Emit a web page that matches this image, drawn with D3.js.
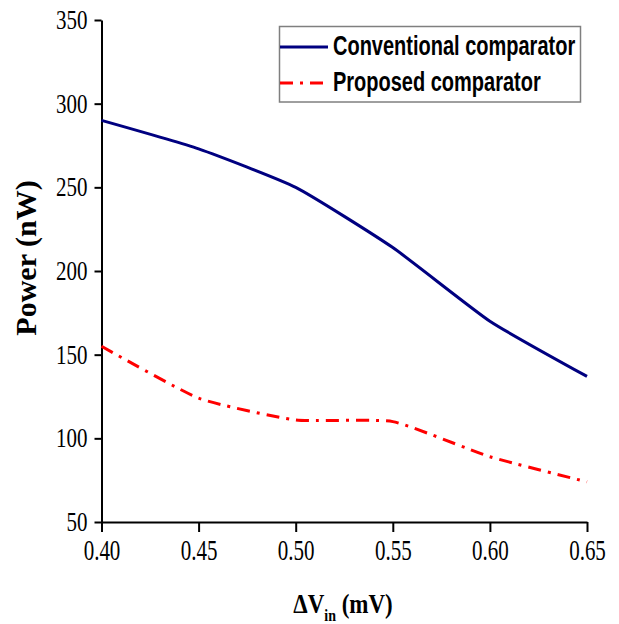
<!DOCTYPE html>
<html lang="en">
<head>
    <meta charset="UTF-8">
    <title>Power vs dVin</title>
    <style>
        body { margin: 0; background: #fff; }
        .line { fill: none; }
        .axis path, .axis line { stroke: #000; stroke-width: 2; }
        .axis text { font-family: "Liberation Serif", "Times New Roman", serif; font-size: 21px; fill: #000; }
    </style>
</head>
<body>
    <svg id="container" width="619" height="624"></svg>

<script src="https://cdn.jsdelivr.net/npm/d3@7"></script>
<script>
    // data
    let dVin = [0.40, 0.45, 0.50, 0.55, 0.60, 0.65]
    let conventional = [290, 273, 250, 214, 170, 137]
    let proposed = [155, 124, 111, 110, 89, 74]
    let xTicks = [0.40, 0.45, 0.50, 0.55, 0.60, 0.65]
    let yTicks = [50, 100, 150, 200, 250, 300, 350]
    let seriesNames = ["Conventional comparator", "Proposed comparator"]

    let svg = d3.select("#container")

    let x = d3.scaleLinear().domain([0.40, 0.65]).range([101.5, 587])
    let y = d3.scaleLinear().domain([50, 350]).range([522, 20])

    // y axis
    let yAxis = svg.append("g")
        .attr("class", "axis")
        .attr("transform", "translate(101.5,0)")
        .call(d3.axisLeft(y).tickValues(yTicks).tickSize(7).tickSizeOuter(0).tickPadding(7).tickFormat(d3.format("d")))
    yAxis.selectAll("text").attr("transform", "scale(1,1.35)").attr("dy", "0.3em")

    // x axis
    let xAxis = svg.append("g")
        .attr("class", "axis")
        .attr("transform", "translate(0,522)")
        .call(d3.axisBottom(x).tickValues(xTicks).tickSize(10).tickSizeOuter(0).tickFormat(d3.format(".2f")))
    xAxis.selectAll("text").attr("transform", "scale(1,1.42)").attr("y", 38 / 1.42).attr("dy", 0)

    // lines (light smoothing like the spreadsheet original)
    let line = d3.line()
        .x((d, i) => x(dVin[i]))
        .y(d => y(d))
        .curve(d3.curveCardinal.tension(0.5))

    svg.append("path")
        .datum(conventional)
        .attr("class", "line")
        .attr("stroke", "#000080")
        .attr("stroke-width", 3)
        .attr("d", line)

    svg.append("path")
        .datum(proposed)
        .attr("class", "line")
        .attr("stroke", "#ff0000")
        .attr("stroke-width", 3)
        .attr("stroke-dasharray", "13,7,3,7")
        .attr("d", line)

    // axis titles
    svg.append("text")
        .attr("transform", "translate(36,258) rotate(-90)")
        .attr("text-anchor", "middle")
        .style("font-family", "Liberation Serif, Times New Roman, serif")
        .style("font-weight", "bold")
        .style("font-size", "30px")
        .text("Power (nW)")

    let xt = svg.append("text")
        .attr("transform", "translate(343,613) scale(1,1.2)")
        .attr("text-anchor", "middle")
        .style("font-family", "Liberation Serif, Times New Roman, serif")
        .style("font-weight", "bold")
        .style("font-size", "23px")
    xt.append("tspan").text("\u0394V")
    xt.append("tspan").attr("dy", 7).style("font-size", "14px").text("in")
    xt.append("tspan").attr("dy", -7).text(" (mV)")

    // legend
    let legend = svg.append("g")
    legend.append("rect")
        .attr("x", 279.5).attr("y", 26.5)
        .attr("width", 301).attr("height", 75.5)
        .attr("fill", "#fff")
        .attr("stroke", "#7f7f7f")
        .attr("stroke-width", 1.5)

    let legendRows = [
        { name: seriesNames[0], color: "#000080", dash: null, ly: 47, ty: 55 },
        { name: seriesNames[1], color: "#ff0000", dash: "13,7,3,7", ly: 83, ty: 90.5 }
    ]
    legendRows.forEach(r => {
        legend.append("line")
            .attr("x1", 280).attr("x2", 328)
            .attr("y1", r.ly).attr("y2", r.ly)
            .attr("stroke", r.color)
            .attr("stroke-width", 3)
            .attr("stroke-dasharray", r.dash)
        legend.append("text")
            .attr("transform", `translate(333,${r.ty}) scale(1,1.35)`)
            .style("font-family", "Liberation Sans, Arial, sans-serif")
            .style("font-weight", "bold")
            .style("font-size", "20px")
            .text(r.name)
    })
</script>
</body>
</html>
